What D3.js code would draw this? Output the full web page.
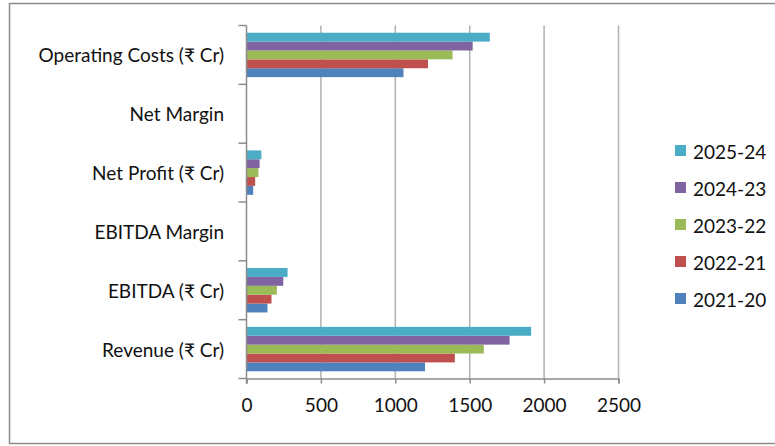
<!DOCTYPE html>
<html>
<head>
<meta charset="utf-8">
<script src="https://cdn.jsdelivr.net/npm/d3@7"></script>
<style>
  html, body { margin: 0; padding: 0; background: #fff; }
  svg { display: block; }
  text { font-family: Lato, "Noto Sans", "DejaVu Sans", sans-serif; fill: #111; }
</style>
</head>
<body>
<script>
// Financial metrics, listed bottom to top as they appear on the vertical axis
const categories = ["Revenue (₹ Cr)", "EBITDA (₹ Cr)", "EBITDA Margin", "Net Profit (₹ Cr)", "Net Margin", "Operating Costs (₹ Cr)"];

// One array per fiscal year, values aligned with categories
const years = ["2021-20", "2022-21", "2023-22", "2024-23", "2025-24"];
const fy2021 = [1200, 141, 0.118, 45, 0.038, 1055];
const fy2022 = [1400, 168, 0.12, 58, 0.041, 1220];
const fy2023 = [1595, 204, 0.128, 80, 0.05, 1385];
const fy2024 = [1768, 247, 0.14, 88, 0.05, 1520];
const fy2025 = [1913, 276, 0.144, 100, 0.052, 1635];
const seriesValues = [fy2021, fy2022, fy2023, fy2024, fy2025];

const xTicks = [0, 500, 1000, 1500, 2000, 2500];
const colors = ["#4F81BD", "#C0504D", "#9BBB59", "#8064A2", "#4BACC6"];

const W = 775, H = 446;
const plot = { left: 246.5, right: 618.5, top: 25.5, bottom: 378.5 };
const FONT = "19px";

const svg = d3.select("body").append("svg").attr("width", W).attr("height", H);

// Outer chart frame
svg.append("rect")
  .attr("x", 9.5).attr("y", 3.5).attr("width", W + 10).attr("height", 440)
  .attr("fill", "#fff").attr("stroke", "#8c8c8c").attr("stroke-width", 1.5);

const x = d3.scaleLinear().domain([0, 2500]).range([plot.left, plot.right]);

// Categories run bottom-up
const y = d3.scaleBand().domain(categories).range([plot.bottom, plot.top]).padding(0);
const groupSpan = y.bandwidth() * 0.755;
// Within a category the latest year sits on top
const yInner = d3.scaleBand().domain(years.slice().reverse()).range([0, groupSpan]).padding(0);

// Vertical gridlines
svg.append("g").selectAll("line").data(xTicks.slice(1)).join("line")
  .attr("x1", d => x(d)).attr("x2", d => x(d))
  .attr("y1", plot.top).attr("y2", plot.bottom)
  .attr("stroke", "#b5b5b5").attr("stroke-width", 1.6);

// Bars
const rows = [];
categories.forEach((c, ci) => {
  years.forEach((yr, si) => {
    rows.push({ cat: c, year: yr, value: seriesValues[si][ci], color: colors[si] });
  });
});
svg.append("g").selectAll("rect").data(rows).join("rect")
  .attr("x", x(0))
  .attr("y", d => y(d.cat) + (y.bandwidth() - groupSpan) / 2 + yInner(d.year))
  .attr("width", d => Math.max(0, x(d.value) - x(0)))
  .attr("height", yInner.bandwidth())
  .attr("fill", d => d.color);

// X axis
const xAxis = d3.axisBottom(x).tickValues(xTicks).tickFormat(d3.format("d")).tickSize(5).tickPadding(15);
const gx = svg.append("g").attr("transform", `translate(0,${plot.bottom})`).call(xAxis);
gx.select(".domain").attr("stroke", "#8c8c8c").attr("stroke-width", 1.5);
gx.selectAll(".tick line").attr("stroke", "#8c8c8c").attr("stroke-width", 1.5);
gx.selectAll(".tick text").style("font-size", FONT).attr("fill", "#111")
  .style("font-family", "Lato, 'Noto Sans', sans-serif");

// Y axis: ticks at category boundaries
const gy = svg.append("g");
gy.append("line").attr("x1", plot.left).attr("x2", plot.left)
  .attr("y1", plot.top).attr("y2", plot.bottom + 5)
  .attr("stroke", "#8c8c8c").attr("stroke-width", 1.5);
const bounds = categories.map(c => y(c)).concat([plot.bottom]);
gy.selectAll("line.bt").data(bounds).join("line").attr("class", "bt")
  .attr("x1", plot.left - 8).attr("x2", plot.left)
  .attr("y1", d => d).attr("y2", d => d)
  .attr("stroke", "#8c8c8c").attr("stroke-width", 1.5);
gy.selectAll("text").data(categories).join("text")
  .attr("x", 224)
  .attr("y", d => y(d) + y.bandwidth() / 2)
  .attr("text-anchor", "end").attr("dominant-baseline", "central")
  .style("font-size", FONT)
  .text(d => d);

// Legend, latest year first
const legendYears = years.map((yr, i) => ({ yr, color: colors[i] })).reverse();
const lg = svg.append("g");
const leg = lg.selectAll("g").data(legendYears).join("g")
  .attr("transform", (d, i) => `translate(675,${151 + i * 37})`);
leg.append("rect").attr("x", 0).attr("y", -6).attr("width", 11).attr("height", 11)
  .attr("fill", d => d.color);
leg.append("text").attr("x", 18).attr("y", 0).attr("dominant-baseline", "central")
  .style("font-size", FONT).text(d => d.yr);
</script>
</body>
</html>
